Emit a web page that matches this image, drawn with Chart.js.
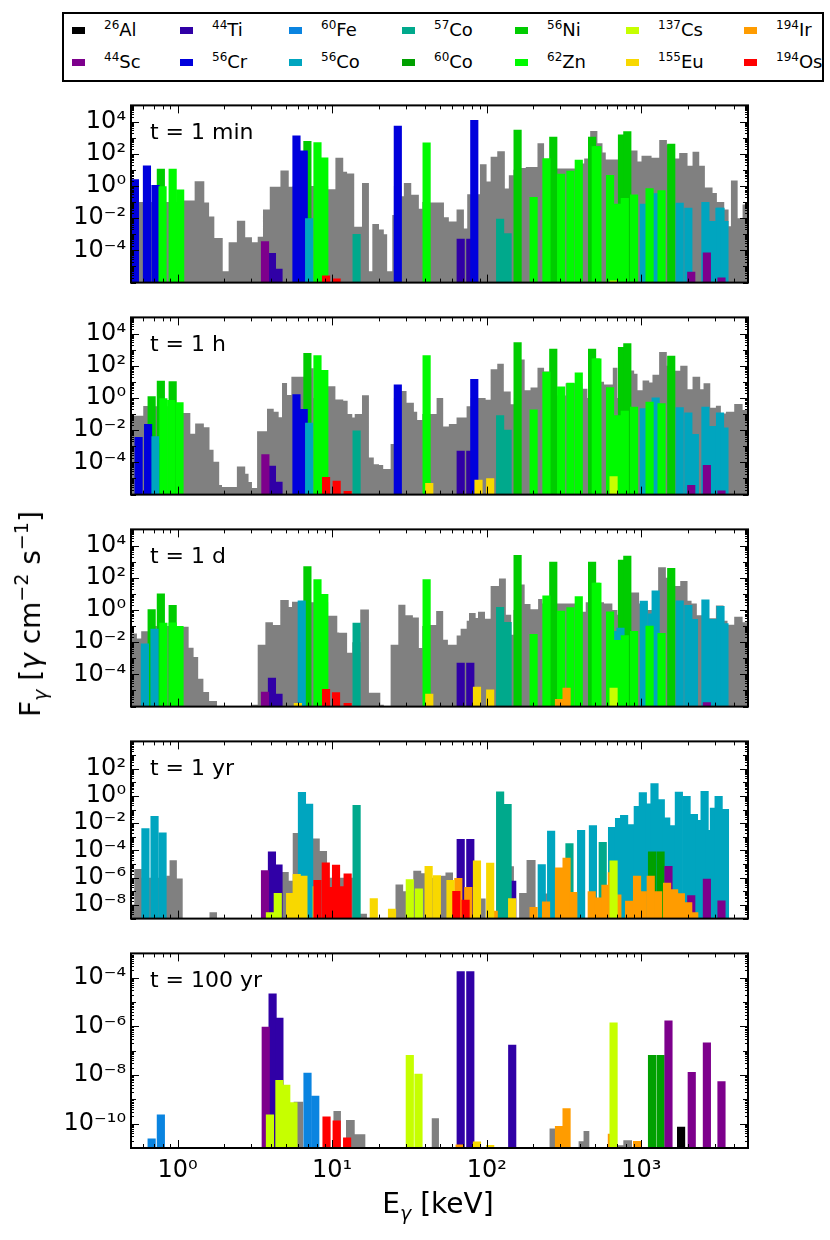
<!DOCTYPE html>
<html>
<head>
<meta charset="utf-8">
<title>Gamma-ray line flux vs energy</title>
<script src="https://cdn.jsdelivr.net/npm/chart.js"></script>
<style>
html,body{margin:0;padding:0;background:#fff;}
body{position:relative;width:830px;height:1240px;overflow:hidden;font-family:"DejaVu Sans",sans-serif;color:#000;}
canvas{position:absolute;left:0;}
#legend{position:absolute;left:62px;top:12px;width:762px;height:70px;border:2px solid #000;box-sizing:border-box;background:#fff;}
.sw{position:absolute;width:13px;height:7px;}
.lt{position:absolute;font-size:18px;line-height:18px;white-space:nowrap;}
.lt sup{font-size:12px;vertical-align:baseline;position:relative;top:-7px;}
.ax{position:absolute;font-size:28px;line-height:28px;white-space:nowrap;}
.ax sub{font-size:19px;vertical-align:baseline;position:relative;top:7px;}
.ax sup{font-size:19px;vertical-align:baseline;position:relative;top:-12px;}
#xlab{left:438px;top:1205px;transform:translate(-50%,-50%);}
#ylab{left:32px;top:614px;transform:translate(-50%,-50%) rotate(-90deg);}
</style>
</head>
<body>
<div id="legend"></div>
<canvas id="c0" width="830" height="216" style="top:86px"></canvas>
<canvas id="c1" width="830" height="216" style="top:298px"></canvas>
<canvas id="c2" width="830" height="216" style="top:510px"></canvas>
<canvas id="c3" width="830" height="216" style="top:722px"></canvas>
<canvas id="c4" width="830" height="306" style="top:934px"></canvas>
<div class="ax" id="xlab">E<sub><i>γ</i></sub> [keV]</div>
<div class="ax" id="ylab">F<sub><i>γ</i></sub> [<i>γ</i> cm<sup>−2</sup> s<sup>−1</sup>]</div>
<script>
// ---------------- DATA (energy in keV, flux in gamma cm^-2 s^-1) ----------------
const isotopes = ['26Al','44Sc','44Ti','56Cr','60Fe','56Co','57Co','60Co','56Ni','62Zn','137Cs','155Eu','194Ir','194Os'];
const panelLabels = ['t = 1 min','t = 1 h','t = 1 d','t = 1 yr','t = 100 yr'];
const yMin = [1e-6, 1e-6, 1e-6, 1e-9, 1e-11];
const yMax = [1e5, 1e5, 1e5, 1e4, 1e-3];
const yTickValues = [
  [1e-4, 1e-2, 1, 1e2, 1e4],
  [1e-4, 1e-2, 1, 1e2, 1e4],
  [1e-4, 1e-2, 1, 1e2, 1e4],
  [1e-8, 1e-6, 1e-4, 1e-2, 1, 1e2],
  [1e-10, 1e-8, 1e-6, 1e-4]
];
const xTickValues = [1, 10, 100, 1000];
const eMin = 0.5, eMax = 4900;

// t = 1 min : [line energy, flux]
const min_Cr56 = [[0.53,2.5],[0.634,18],[0.72,1.1],[5.88,1300],[6.55,150],[26.6,5200],[83.1,12000]];
const min_Ni56 = [[0.78,11],[6.92,590],[158.4,2900],[269.5,1070],[480.4,1070],[749.9,1480],[811.9,2350],[1561.8,400]];
const min_Zn62 = [[0.80,0.92],[0.93,11],[1.04,0.57],[8.04,500],[8.9,56],[40.85,480],[201,0.2],[243.4,50],[303,5.5],[348,8.3],[394,41],[507.6,275],[520,275],[628,4.5],[701,0.076],[782,0.17],[898,0.28],[1131,0.68],[1352,0.51]];
const min_Co56 = [[7.1,0.0095],[1037.8,0.076],[1238.3,0.34],[1771.4,0.085],[2015,0.042],[2598.5,0.095],[2870,0.0063],[3202,0.042],[3253.5,0.042],[3451,0.0063]];
const min_Co57 = [[14.4,9.8e-4],[122.1,8.7e-3],[136.5,1.1e-3]];
const min_Ti44 = [[4.08,6.5e-5],[4.5,6.8e-6],[67.87,5e-4],[78.32,5e-4]];
const min_Sc44 = [[3.68,3.5e-4],[2104,4.5e-6],[2656,7e-5],[3301,2e-6]];
const min_Os194 = [[9.14,2.6e-6],[10.7,1.7e-6]];
const min_Cs137 = [[661.7,1.3e-6]];
// unresolved remainder (grey histogram): [bin start energy, flux], null = empty
const min_other = [[0.5,0.1],[1.094,0.126],[1.29,1.95],[1.49,0.095],[1.60,0.0126],[1.73,5.8e-4],[1.96,5e-6],[2.14,3.2e-4],[2.42,7e-3],[2.74,6.6e-4],[3.03,3.2e-4],[3.30,7e-4],[3.57,0.035],[3.95,0.9],[4.63,9],[5.24,0.9],[5.56,1],[9.42,0.62],[10.5,56],[11.8,7.6],[12.5,6],[13.9,2.9e-3],[15.6,1.5],[17.3,5e-6],[18.2,4.3e-3],[20.1,2e-3],[21.6,1e-3],[22.7,5e-6],[24.5,0.016],[25.1,1],[28.0,0.23],[29.1,1.5],[32.5,0.28],[36.4,0.038],[38.3,0.1],[42.3,0.095],[52.9,0.0115],[56.9,6.3e-3],[63.8,0.034],[71.2,2.3e-3],[74.8,0.3],[90.4,22],[99.8,1.9],[106,66],[117,145],[131,0.7],[139,4.6],[149,10],[166,13],[179,15],[213,450],[235,30],[253,20],[284,12],[386,25],[427,50],[467,2600],[520,450],[561,120],[589,44],[847,160],[945,33],[1003,74],[1165,56],[1306,720],[1464,360],[1632,50],[1758,110],[1991,18],[2145,135],[2370,18],[2578,0.8],[2890,0.37],[3083,0.1],[3440,0.034],[3670,3.1e-3],[3800,2.2],[4200,0.01],[4520,0.07],[4900,null]];

// t = 1 h
const hour_Cr56 = [[0.56,3.6e-3],[0.645,0.023],[0.72,1.5e-3],[5.88,1.6],[6.55,0.2],[26.6,6.5],[83.1,14.5]];
const hour_Ni56 = [[0.68,1.2],[0.78,11],[0.93,10.5],[6.92,590],[158.4,2700],[269.5,1070],[480.4,1070],[749.9,1400],[811.9,2350],[1561.8,400]];
const hour_Zn62 = [[0.81,0.9],[0.91,0.7],[1.03,0.52],[8.04,430],[8.9,51],[40.85,430],[201,0.18],[243.4,41],[303,4.9],[348,8.3],[394,36],[507.6,265],[520,265],[628,4.4],[701,0.08],[782,0.155],[898,0.27],[1131,0.55],[1352,0.45]];
const hour_Co56 = [[0.72,4e-3],[7.1,0.028],[1037.8,0.22],[1238.3,1.0],[1771.4,0.25],[2015,0.12],[2220,5.6e-3],[2598.5,0.27],[2900,0.017],[3230,0.12],[3451,0.014]];
const hour_Co57 = [[14.4,9e-3],[122.1,0.08],[136.5,0.01]];
const hour_Ti44 = [[4.08,6e-5],[4.5,6e-6],[67.87,5e-4],[78.32,5e-4]];
const hour_Sc44 = [[3.70,3e-4],[2104,3.8e-6],[2656,6.5e-5],[3301,1.7e-6]];
const hour_Os194 = [[9.14,1.2e-5],[10.7,7e-6],[12.6,1.6e-6]];
const hour_Eu155 = [[42.5,5e-6],[88.5,8e-6],[105.3,1e-5]];
const hour_Cs137 = [[661.7,1.3e-5]];
const hour_other = [[0.5,0.078],[0.60,0.32],[0.649,0.3],[1.08,0.115],[1.21,5.9e-3],[1.30,0.026],[1.48,0.015],[1.61,6e-4],[1.71,1.1e-4],[1.86,4e-6],[1.94,3e-6],[2.42,5.5e-5],[2.74,2e-5],[2.88,6e-6],[3.03,2.6e-6],[3.27,8.7e-3],[3.79,0.21],[4.19,0.14],[4.51,0.063],[4.74,8.5],[5.11,1.55],[5.45,21],[7.31,70],[7.60,1],[9.37,5.4],[10.5,0.81],[11.8,0.68],[12.6,0.1],[13.5,0.062],[14.0,0.1],[15.6,1.45],[17.3,2e-4],[18.6,7.6e-5],[20.1,7e-5],[21.4,3.9e-5],[23.9,1.4e-3],[25.1,1],[27.7,2.7],[30.3,0.51],[33.8,0.138],[35.5,0.042],[38.3,0.1],[42.9,0.1],[47.4,1.0],[52.3,0.0166],[56.9,0.0245],[63.8,0.062],[74.1,0.3],[78.7,1],[87.8,1.0],[98.4,0.76],[106,60],[117,135],[129,2.5],[143,0.4],[150,1],[166,245],[176,3],[192,4.4],[213,74],[235,44],[253,1],[282,1.4],[324,8.3],[416,3.7],[448,1],[500,10],[574,6.8],[654,74],[701,1],[856,50],[899,32],[945,3],[1019,12],[1125,9],[1181,27.5],[1304,700],[1462,100],[1632,48],[1786,98],[1991,3.5],[2145,21],[2404,3.5],[2527,8.3],[2793,0.25],[3037,0.33],[3271,0.11],[3525,0.138],[3990,0.42],[4520,0.18],[4900,null]];

// t = 1 d
const day_Ni56 = [[0.68,1.05],[0.78,10],[0.93,1.9],[6.92,500],[158.4,2450],[269.5,920],[480.4,920],[749.9,1250],[811.9,2200],[1561.8,380]];
const day_Zn62 = [[0.81,0.155],[0.93,0.16],[1.03,0.095],[8.04,78],[8.9,9.4],[40.85,78],[201,0.031],[243.4,7.6],[303,0.85],[348,1.4],[394,6.8],[507.6,46],[520,46],[628,0.76],[701,0.013],[782,0.026],[898,0.047],[1131,0.1],[1352,0.035]];
const day_Co56 = [[0.615,7.8e-3],[0.71,0.065],[6.36,3.7],[700,0.047],[733.5,0.076],[1037.8,3.5],[1175.1,0.58],[1238.3,15.5],[1771.4,3.7],[2015,1.9],[2190,0.26],[2598.5,4.2],[2905,0.26],[3253.5,1.7],[3451,0.14]];
const day_Co57 = [[14.4,0.155],[122.1,1.45],[136.5,0.17]];
const day_Ti44 = [[4.08,6e-5],[4.5,6e-6],[67.87,5e-4],[78.32,5e-4]];
const day_Sc44 = [[3.68,8e-6],[2656,1.8e-6]];
const day_Os194 = [[9.14,1.2e-5],[10.6,7.3e-6],[12.6,1.6e-6]];
const day_Eu155 = [[6.0,1.6e-6],[42.5,6e-6],[86.5,1.6e-5],[105.3,1.1e-5]];
const day_Ir194 = [[293.5,2.8e-6],[328.5,1.4e-5]];
const day_Cs137 = [[661.7,1.4e-5]];
const day_other = [[0.5,0.035],[0.546,0.017],[0.582,0.047],[0.649,0.1],[1.08,0.089],[1.18,4.5e-3],[1.27,1.2e-3],[1.36,5.4e-5],[1.47,8.1e-6],[1.60,2.2e-6],[1.80,1.1e-6],[1.99,null],[3.00,1.3e-6],[3.30,7e-3],[3.70,0.17],[4.14,0.117],[4.62,4.2],[5.24,1.55],[5.50,3.2],[6.02,3],[9.42,0.44],[10.8,0.04],[11.1,0.038],[12.5,2.2e-3],[13.5,0.01],[15.2,1.05],[17.3,7.2e-6],[20.5,1.3e-6],[21.6,null],[23.9,7e-3],[26.8,2.1],[29.8,0.47],[33.3,0.34],[36.4,4.3e-3],[38.3,0.1],[42.7,0.117],[47.1,0.85],[52.3,0.014],[56.1,7e-3],[63.9,0.026],[67.8,0.069],[74.2,0.21],[76.8,0.65],[84.8,0.32],[87.8,0.76],[97.5,0.28],[106,31],[120,91],[133,0.5],[144,0.029],[149,1],[166,38],[176,2.3],[192,1.1],[215,4.8],[229,2.5],[405,0.76],[437,3],[574,2.5],[650,1],[701,0.5],[847,12],[968,2.5],[1097,1],[1285,450],[1442,100],[1632,31],[1786,63],[1991,3.7],[2114,2.5],[2287,0.47],[2553,1.5],[2683,0.3],[3037,1.9],[3404,0.21],[3611,0.12],[3990,0.38],[4520,0.17],[4900,null]];

// t = 1 yr
const yr_Co56 = [[0.62,4e-3],[0.71,0.032],[0.80,2e-3],[6.38,1.8],[7.1,0.25],[227,9e-6],[261,2.6e-3],[408,3e-3],[486.5,6.8e-3],[647,4.9e-3],[718,0.023],[774,0.037],[859,7.8e-3],[949,0.17],[1023,1.74],[1130,0.26],[1217,7.9],[1337,0.54],[1449,0.025],[1592,6.8e-3],[1750,1.9],[1963,0.95],[2190,0.045],[2382,0.016],[2567,2.2],[2767,3e-3],[2951,0.13],[3164,0.95],[3476,0.105]];
const yr_Co57 = [[14.4,0.2],[122.1,2.0],[136.5,0.24],[343,3.2e-4],[563,4e-4]];
const yr_Ti44 = [[4.08,7.8e-5],[4.5,8.7e-6],[67.87,6.5e-4],[78.32,6.5e-4],[146.2,5.7e-7]];
const yr_Sc44 = [[3.68,3.3e-6],[1499,6.8e-6],[2104,4.8e-8],[2656,8e-7],[3301,2e-8]];
const yr_Cs137 = [[3.96,2.8e-9],[4.45,7e-8],[31.8,7.4e-7],[36.4,1.5e-7],[661.7,1.7e-5]];
const yr_Eu155 = [[5.35,7e-8],[5.9,1.8e-6],[6.52,1.3e-6],[7.95,2.2e-7],[18.6,3e-8],[24.4,5e-9],[42.1,6.8e-6],[47.6,1.45e-6],[58.3,6.3e-7],[86.5,1.7e-5],[105.3,1.2e-5],[146,3e-8]];
const yr_Os194 = [[8.04,6.4e-7],[9.1,1.25e-5],[9.7,2e-7],[10.6,8.5e-6],[11.5,2.2e-7],[12.6,1.9e-6],[63.6,1e-7],[73,2.3e-8]];
const yr_Ir194 = [[65.5,9e-7],[76,2e-7],[111,3.6e-9],[201,6.6e-9],[242,1.7e-8],[293.5,5.2e-6],[328.5,2.7e-5],[363,8.5e-8],[478,9.8e-8],[531,3.3e-8],[586,2.9e-7],[645,2.4e-6],[700,5.5e-8],[834,1.9e-8],[938.7,1.3e-6],[1023,9.8e-8],[1150.8,1.3e-6],[1285,9.8e-8],[1468,4e-7],[1630,1.35e-7],[1803,6.9e-8],[2011,1.5e-8],[2200,2.8e-9]];
const yr_Co60 = [[1173.2,7.8e-5],[1332.5,7.8e-5]];
const yr_other = [[0.5,1.1e-8],[0.525,4.3e-6],[0.588,1e-6],[0.845,1.4e-6],[0.888,1.9e-5],[0.99,8.9e-7],[1.08,null],[1.61,2.9e-9],[1.80,null],[4.70,2.6e-6],[5.24,6e-7],[5.56,1.9e-3],[6.08,1e-3],[7.42,7.4e-4],[8.32,9.1e-5],[9.27,1e-6],[14.0,null],[15.1,2.3e-9],[16.8,null],[25.7,3.2e-7],[28.8,1e-7],[33.5,3.3e-6],[37.7,2.1e-6],[41.2,1e-6],[50.3,1.4e-6],[54.1,2.4e-6],[60.5,1e-7],[67.8,null],[91.2,3e-8],[98.4,null],[136,6.8e-6],[150,null],[162,7.6e-8],[181,2e-5],[207,null],[217,6.9e-8],[249,null],[459,1.2e-7],[490,null]];

// t = 100 yr
const cent_Fe60 = [[0.68,2.4e-11],[0.78,2.3e-10],[6.93,1.2e-8],[7.78,1.35e-9]];
const cent_Sc44 = [[3.72,9.3e-7],[1499,1.7e-6],[2120,1.3e-8],[2656,2.1e-7],[3301,5.4e-9]];
const cent_Ti44 = [[4.12,2.2e-5],[4.56,2.2e-6],[67.87,1.8e-4],[78.32,1.8e-4],[146.2,1.7e-7]];
const cent_Cs137 = [[3.96,2.3e-10],[4.56,6e-9],[5.05,3.9e-9],[5.62,7.4e-10],[31.8,6.5e-8],[36.2,1.1e-8],[661.7,1.4e-6]];
const cent_Os194 = [[9.2,1.9e-10],[10.7,1.3e-10],[12.5,2.6e-11]];
const cent_Ir194 = [[66.8,1.35e-11],[293.5,7.8e-11],[328.5,4.2e-10],[645,3.7e-11],[938.7,1.9e-11]];
const cent_Eu155 = [[86.5,1.8e-11],[105.3,1.3e-11]];
const cent_Co60 = [[1173.2,6.5e-8],[1332.5,6.5e-8]];
const cent_Al26 = [[1808.7,7.2e-11]];
const cent_other = [[5.62,8e-10],[6.5,null],[10.2,3.3e-10],[11.4,null],[12.3,1.4e-10],[14.0,3.7e-11],[16.4,null],[44.1,1.66e-10],[49.1,null],[255,6.3e-11],[278,null],[393,1.9e-11],[423,5e-11],[461,null],[701,1.3e-11],[765,2.1e-11],[871,null]];

// ---------------- tables built from the arrays above ----------------
const panelLines = [
  {'56Cr':min_Cr56,'56Ni':min_Ni56,'62Zn':min_Zn62,'56Co':min_Co56,'57Co':min_Co57,'44Ti':min_Ti44,'44Sc':min_Sc44,'194Os':min_Os194,'137Cs':min_Cs137},
  {'56Cr':hour_Cr56,'56Ni':hour_Ni56,'62Zn':hour_Zn62,'56Co':hour_Co56,'57Co':hour_Co57,'44Ti':hour_Ti44,'44Sc':hour_Sc44,'194Os':hour_Os194,'155Eu':hour_Eu155,'137Cs':hour_Cs137},
  {'56Ni':day_Ni56,'62Zn':day_Zn62,'56Co':day_Co56,'57Co':day_Co57,'44Ti':day_Ti44,'44Sc':day_Sc44,'194Os':day_Os194,'155Eu':day_Eu155,'194Ir':day_Ir194,'137Cs':day_Cs137},
  {'56Co':yr_Co56,'57Co':yr_Co57,'44Ti':yr_Ti44,'44Sc':yr_Sc44,'137Cs':yr_Cs137,'155Eu':yr_Eu155,'194Os':yr_Os194,'194Ir':yr_Ir194,'60Co':yr_Co60},
  {'60Fe':cent_Fe60,'44Sc':cent_Sc44,'44Ti':cent_Ti44,'137Cs':cent_Cs137,'194Os':cent_Os194,'194Ir':cent_Ir194,'155Eu':cent_Eu155,'60Co':cent_Co60,'26Al':cent_Al26}
];
const panelOther = [min_other, hour_other, day_other, yr_other, cent_other];

// ---------------- styles ----------------
const colors = {'26Al':'#000000','44Sc':'#7d008c','44Ti':'#3000a6','56Cr':'#0000dc','60Fe':'#0a84e0','56Co':'#00a5bf','57Co':'#00a98c','60Co':'#00a000','56Ni':'#00cc00','62Zn':'#00fa00','137Cs':'#c6ff00','155Eu':'#f8d800','194Ir':'#ff9c00','194Os':'#ff0000'};
const otherColor = '#808080';
const drawOrder = ['26Al','194Os','155Eu','137Cs','194Ir','44Sc','60Co','60Fe','57Co','62Zn','56Co','56Cr','56Ni','44Ti']; // first = front
const legendRows = [['26Al','44Ti','60Fe','57Co','56Ni','137Cs','194Ir'],['44Sc','56Cr','56Co','60Co','62Zn','155Eu','194Os']];
const legendColX = [8,116,225,338,451,562,680];
const legendRowY = [16,48];
const FLOOR = 1e-30;
const FONT = '"DejaVu Sans"';
const TICK_SIZE = 24;

// ---------------- legend (HTML) ----------------
const leg = document.getElementById('legend');
legendRows.forEach((row, r) => row.forEach((iso, c) => {
  const sw = document.createElement('div');
  sw.className = 'sw';
  sw.style.left = legendColX[c] + 'px';
  sw.style.top = (legendRowY[r] - 3.5) + 'px';
  sw.style.background = colors[iso];
  leg.appendChild(sw);
  const t = document.createElement('div');
  t.className = 'lt';
  t.style.left = (legendColX[c] + 32) + 'px';
  t.style.top = (legendRowY[r] - 9) + 'px';
  const m = iso.match(/^(\d+)([A-Za-z]+)$/);
  t.innerHTML = '<sup>' + m[1] + '</sup>' + m[2];
  leg.appendChild(t);
}));

// ---------------- charts ----------------
const SUP = {'0':'⁰','1':'¹','2':'²','3':'³','4':'⁴','5':'⁵','6':'⁶','7':'⁷','8':'⁸','9':'⁹','-':'⁻'};
function powLabel(v) {
  const e = Math.round(Math.log10(v));
  return '10' + String(e).split('').map(ch => SUP[ch]).join('');
}

function makeDecor(p) {
  const majors = yTickValues[p].map(v => Math.round(Math.log10(v)));
  return {
    id: 'decor' + p,
    afterDraw(chart) {
      const {ctx, chartArea: a, scales} = chart;
      const xs = scales.x, ys = scales.y;
      ctx.save();
      ctx.strokeStyle = '#000';
      ctx.lineWidth = 1;
      ctx.beginPath();
      const xlo = Math.floor(Math.log10(xs.min)), xhi = Math.ceil(Math.log10(xs.max));
      for (let d = xlo; d <= xhi; d++) for (let m = 1; m <= 9; m++) {
        const v = m * Math.pow(10, d);
        if (v < xs.min || v > xs.max) continue;
        const px = Math.round(xs.getPixelForValue(v)) + 0.5;
        const len = m === 1 ? 8 : 4;
        ctx.moveTo(px, a.bottom); ctx.lineTo(px, a.bottom - len);
        ctx.moveTo(px, a.top); ctx.lineTo(px, a.top + len);
      }
      const ylo = Math.round(Math.log10(ys.min)), yhi = Math.round(Math.log10(ys.max));
      for (let d = ylo; d <= yhi; d++) for (let m = 1; m <= 9; m++) {
        const v = m * Math.pow(10, d);
        if (v < ys.min * 0.999 || v > ys.max * 1.001) continue;
        const py = Math.round(ys.getPixelForValue(v)) + 0.5;
        const len = m === 1 ? (majors.includes(d) ? 8 : 5) : 3;
        ctx.moveTo(a.left, py); ctx.lineTo(a.left + len, py);
        ctx.moveTo(a.right, py); ctx.lineTo(a.right - len, py);
      }
      ctx.stroke();
      ctx.lineWidth = 2;
      ctx.strokeRect(a.left, a.top, a.right - a.left, a.bottom - a.top);
      ctx.fillStyle = '#000';
      ctx.font = '22px ' + FONT;
      ctx.textAlign = 'left';
      ctx.textBaseline = 'alphabetic';
      ctx.fillText(panelLabels[p], a.left + 19, a.top + 34);
      ctx.restore();
    }
  };
}

for (let p = 0; p < 5; p++) {
  const datasets = [];
  drawOrder.forEach((iso, k) => {
    const lines = panelLines[p][iso];
    if (!lines) return;
    datasets.push({
      type: 'bar',
      label: iso,
      data: lines.map(([e, f]) => ({x: e, y: f})),
      backgroundColor: colors[iso],
      borderWidth: 0,
      barThickness: 7.5,
      grouped: false,
      order: k
    });
  });
  datasets.push({
    type: 'line',
    label: 'other',
    data: panelOther[p].map(([e, f]) => ({x: e, y: f === null ? FLOOR : f})),
    stepped: true,
    fill: 'start',
    backgroundColor: otherColor,
    borderColor: otherColor,
    borderWidth: 0,
    pointRadius: 0,
    order: 99
  });
  const last = p === 4;
  const xScale = {
    type: 'logarithmic', min: eMin, max: eMax, offset: false,
    display: last,
    grid: {display: false, drawTicks: false, offset: false},
    border: {display: false},
    afterBuildTicks: s => { s.ticks = xTickValues.map(v => ({value: v})); },
    ticks: {callback: v => powLabel(v), font: {family: 'DejaVu Sans', size: TICK_SIZE}, color: '#000', padding: 8, maxRotation: 0, autoSkip: false}
  };
  if (last) xScale.afterFit = s => { s.height = 92; };
  new Chart(document.getElementById('c' + p), {
    type: 'bar',
    data: {datasets},
    options: {
      responsive: false,
      animation: false,
      events: [],
      layout: {padding: {left: 0, right: 82, top: 2, bottom: last ? 0 : 2}},
      plugins: {legend: {display: false}, tooltip: {enabled: false}},
      scales: {
        x: xScale,
        y: {
          type: 'logarithmic', min: yMin[p], max: yMax[p],
          grid: {display: false, drawTicks: false},
          border: {display: false},
          afterBuildTicks: s => { s.ticks = yTickValues[p].map(v => ({value: v})); },
          afterFit: s => { s.width = 131; },
          ticks: {callback: v => powLabel(v), font: {family: 'DejaVu Sans', size: TICK_SIZE}, color: '#000', padding: 5, autoSkip: false}
        }
      }
    },
    plugins: [makeDecor(p)]
  });
}
</script>
</body>
</html>
